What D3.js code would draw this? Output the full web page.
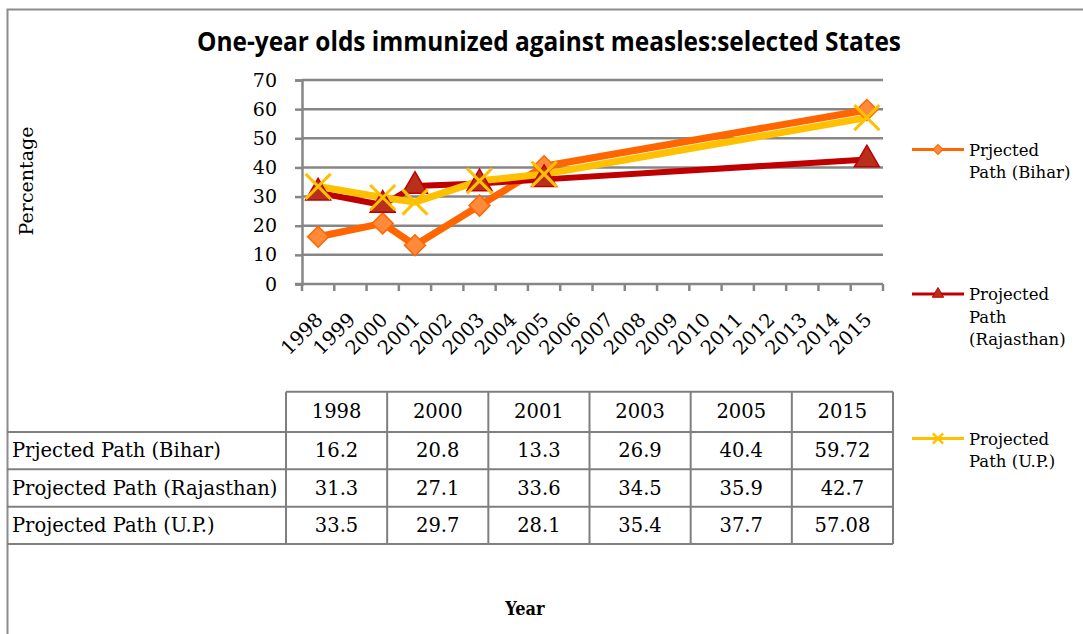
<!DOCTYPE html>
<html>
<head>
<meta charset="utf-8">
<script src="https://cdn.jsdelivr.net/npm/d3@7"></script>
<style>
  html, body { margin: 0; padding: 0; background: #fff; }
  svg { display: block; }
</style>
</head>
<body>
<svg id="chart" width="1083" height="634"></svg>
<script>
// ---------- data ----------
const categories = ["1998","1999","2000","2001","2002","2003","2004","2005","2006","2007","2008","2009","2010","2011","2012","2013","2014","2015"];
const dataYears = ["1998","2000","2001","2003","2005","2015"];
const seriesNames = ["Prjected Path (Bihar)", "Projected Path (Rajasthan)", "Projected Path (U.P.)"];
const legendLines = [["Prjected", "Path (Bihar)"], ["Projected", "Path", "(Rajasthan)"], ["Projected", "Path (U.P.)"]];
const bihar = [16.2, 20.8, 13.3, 26.9, 40.4, 59.72];
const rajasthan = [31.3, 27.1, 33.6, 34.5, 35.9, 42.7];
const up = [33.5, 29.7, 28.1, 35.4, 37.7, 57.08];
const tableText = [["16.2","20.8","13.3","26.9","40.4","59.72"],["31.3","27.1","33.6","34.5","35.9","42.7"],["33.5","29.7","28.1","35.4","37.7","57.08"]];
const yTicks = [0, 10, 20, 30, 40, 50, 60, 70];
const titleText = "One-year olds immunized against measles:selected States";
const yTitle = "Percentage";
const xTitle = "Year";

// ---------- setup ----------
const svg = d3.select("#chart");
const serif = "'DejaVu Serif', serif";
const gray = "#868686";
const colors = {
  line: ["#FF6600", "#C00000", "#FFC000"],
  fill: ["#FF8A3A", "#B8301C", "none"],
  stroke: ["#FF6600", "#C00000", "#FFC000"]
};
const seriesVals = [bihar, rajasthan, up];

const x = d3.scaleBand().domain(categories).range([302, 883]).padding(0);
const y = d3.scaleLinear().domain([0, 70]).range([284, 80]);
const cx = d => x(d) + x.bandwidth() / 2;

// chart border
svg.append("path")
  .attr("d", "M7.5,640 L7.5,9.5 L1090,9.5")
  .attr("fill", "none").attr("stroke", "#8c8c8c").attr("stroke-width", 2);

// title
svg.append("text")
  .attr("x", 549).attr("y", 51)
  .attr("text-anchor", "middle")
  .attr("font-family", "'Open Sans', sans-serif")
  .attr("font-weight", 700)
  .attr("font-size", 26)
  .attr("textLength", 704)
  .attr("lengthAdjust", "spacingAndGlyphs")
  .text(titleText);

// gridlines
svg.append("g").selectAll("line").data(yTicks.filter(v => v > 0)).join("line")
  .attr("x1", 302).attr("x2", 883)
  .attr("y1", d => y(d)).attr("y2", d => y(d))
  .attr("stroke", gray).attr("stroke-width", 2.5);

// y axis
const yAxis = svg.append("g").attr("transform", "translate(302,0)")
  .call(d3.axisLeft(y).tickValues(yTicks).tickSize(7).tickPadding(18).tickFormat(d3.format("d")));
yAxis.select(".domain").attr("stroke", gray).attr("stroke-width", 2.5);
yAxis.selectAll(".tick line").attr("stroke", gray).attr("stroke-width", 2.5);
yAxis.selectAll(".tick text").attr("font-family", serif).attr("font-size", 19).attr("fill", "#000");

// x axis line + boundary ticks
svg.append("line").attr("x1", 295).attr("x2", 883).attr("y1", y(0)).attr("y2", y(0))
  .attr("stroke", gray).attr("stroke-width", 2.5);
const bounds = categories.map(c => x(c)).concat([x.range()[1]]);
svg.append("g").selectAll("line").data(bounds).join("line")
  .attr("x1", d => d).attr("x2", d => d)
  .attr("y1", y(0)).attr("y2", y(0) + 7)
  .attr("stroke", gray).attr("stroke-width", 2.5);

// x category labels (rotated)
const xAxis = svg.append("g").attr("transform", `translate(0,${y(0)})`)
  .call(d3.axisBottom(x).tickSize(0).tickPadding(0));
xAxis.select(".domain").remove();
xAxis.selectAll(".tick text")
  .attr("font-family", serif).attr("font-size", 19.5).attr("fill", "#000")
  .attr("text-anchor", "end")
  .attr("dy", 0)
  .attr("transform", "translate(6,37) rotate(-45)");

// y title
svg.append("text")
  .attr("transform", "translate(33,181) rotate(-90)")
  .attr("text-anchor", "middle")
  .attr("font-family", serif).attr("font-size", 19)
  .text(yTitle);

// lines
const lineGen = d3.line().x((d, i) => cx(dataYears[i])).y(d => y(d));
const plot = svg.append("g");
const symDiamond = d3.symbol(d3.symbolSquare, 220);
const symTri = d3.symbol(d3.symbolTriangle, 270);
const symX = d3.symbol(d3.symbolX, 410);
seriesVals.forEach((vals, s) => {
  plot.append("path").datum(vals)
    .attr("d", lineGen)
    .attr("fill", "none")
    .attr("stroke", colors.line[s])
    .attr("stroke-width", s === 1 ? 6 : 7)
    .attr("stroke-linejoin", "round");
});
seriesVals.forEach((vals, s) => {
  const g = plot.append("g");
  g.selectAll("path").data(vals).join("path")
    .attr("transform", (d, i) => `translate(${cx(dataYears[i])},${y(d)})` + (s === 0 ? " rotate(45)" : ""))
    .attr("d", s === 0 ? symDiamond : s === 1 ? symTri : symX)
    .attr("fill", colors.fill[s])
    .attr("stroke", colors.stroke[s])
    .attr("stroke-width", s === 2 ? 3 : 1.5);
});

// legend
const legendY = [149.5, 294, 438.5];
const legSym = [d3.symbol(d3.symbolSquare, 50), d3.symbol(d3.symbolTriangle, 55), d3.symbol(d3.symbolX, 70)];
const leg = svg.append("g");
seriesNames.forEach((name, s) => {
  const ly = legendY[s];
  leg.append("line").attr("x1", 912).attr("x2", 964).attr("y1", ly).attr("y2", ly)
    .attr("stroke", colors.line[s]).attr("stroke-width", 3);
  leg.append("path")
    .attr("transform", `translate(938,${ly})` + (s === 0 ? " rotate(45)" : ""))
    .attr("d", legSym[s])
    .attr("fill", colors.fill[s]).attr("stroke", colors.stroke[s])
    .attr("stroke-width", s === 2 ? 2.5 : 1);
  const t = leg.append("text").attr("font-family", serif).attr("font-size", 16.5).attr("fill", "#000");
  legendLines[s].forEach((ln, k) => {
    t.append("tspan").attr("x", 969).attr("y", ly + 6 + k * 22.5).text(ln);
  });
});

// data table
const colX = d3.scaleBand().domain(dataYears).range([286, 893]);
const rowEdges = [391.7, 432, 469.3, 506.7, 544];
const tbl = svg.append("g");
const tfs = 19.5;
tbl.selectAll("text.hdr").data(dataYears).join("text").attr("class", "hdr")
  .attr("x", d => colX(d) + colX.bandwidth() / 2)
  .attr("y", (rowEdges[0] + rowEdges[1]) / 2 + 6.5)
  .attr("text-anchor", "middle")
  .attr("font-family", serif).attr("font-size", tfs)
  .text(d => d);
seriesNames.forEach((name, r) => {
  const cyy = (rowEdges[r + 1] + rowEdges[r + 2]) / 2 + 6.5;
  tbl.append("text").attr("x", 12).attr("y", cyy)
    .attr("font-family", serif).attr("font-size", tfs).text(name);
  tbl.selectAll(null).data(tableText[r]).join("text")
    .attr("x", (d, i) => colX(dataYears[i]) + colX.bandwidth() / 2)
    .attr("y", cyy)
    .attr("text-anchor", "middle")
    .attr("font-family", serif).attr("font-size", tfs)
    .text(d => d);
});
const tstroke = "#7f7f7f";
tbl.append("line").attr("x1", 286).attr("x2", 893).attr("y1", rowEdges[0]).attr("y2", rowEdges[0])
  .attr("stroke", tstroke).attr("stroke-width", 2);
rowEdges.slice(1).forEach(ry => {
  tbl.append("line").attr("x1", 7).attr("x2", 893).attr("y1", ry).attr("y2", ry)
    .attr("stroke", tstroke).attr("stroke-width", 2);
});
const vlines = dataYears.map(d => colX(d)).concat([893]);
tbl.selectAll("line.v").data(vlines).join("line").attr("class", "v")
  .attr("x1", d => d).attr("x2", d => d)
  .attr("y1", rowEdges[0]).attr("y2", rowEdges[4])
  .attr("stroke", tstroke).attr("stroke-width", 2);

// x title
svg.append("text")
  .attr("x", 525).attr("y", 615)
  .attr("text-anchor", "middle")
  .attr("font-family", serif).attr("font-weight", 700).attr("font-size", 18)
  .attr("font-stretch", "condensed")
  .text(xTitle);
</script>
</body>
</html>
